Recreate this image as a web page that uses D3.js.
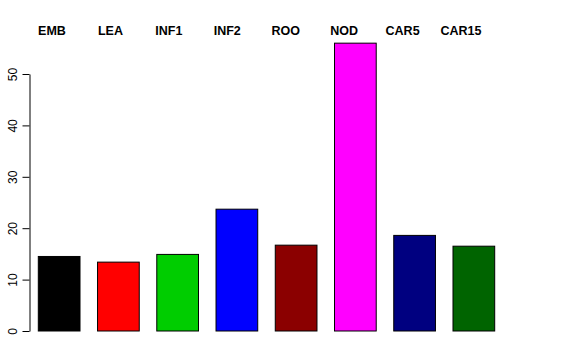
<!DOCTYPE html>
<html><head><meta charset="utf-8">
<script src="https://cdn.jsdelivr.net/npm/d3@7"></script>
<style>body{margin:0;background:#fff}svg{display:block}</style>
</head><body>
<script>
const categories = ["EMB","LEA","INF1","INF2","ROO","NOD","CAR5","CAR15"];
const values = [14.5, 13.4, 14.9, 23.7, 16.7, 56.0, 18.6, 16.5];
const colors = ["#000000","#FF0000","#00CD00","#0000FF","#8B0000","#FF00FF","#000080","#006400"];
const yTicks = [0,10,20,30,40,50];

const W = 576, H = 360;
const svg = d3.select("body").append("svg").attr("width", W).attr("height", H);

const x = d3.scaleBand().domain(categories).range([38.3, 494.7]).paddingInner(0.296).paddingOuter(0);
const y = d3.scaleLinear().domain([0, 50]).range([331, 74]);
const xl = d3.scalePoint().domain(categories).range([52, 461]);

svg.append("g").selectAll("rect").data(categories).join("rect")
  .attr("x", d => x(d))
  .attr("y", (d,i) => y(values[i]))
  .attr("width", x.bandwidth())
  .attr("height", (d,i) => y(0) - y(values[i]))
  .attr("fill", (d,i) => colors[i])
  .attr("stroke", "#000")
  .attr("stroke-width", 1);

const ax = svg.append("g").attr("transform", "translate(29.5,0)")
  .call(d3.axisLeft(y).tickValues(yTicks).tickSize(7).tickSizeOuter(0).tickFormat(d3.format("d")));
ax.select(".domain").attr("stroke", "#000");
ax.selectAll(".tick line").attr("stroke", "#000");
ax.selectAll(".tick text")
  .attr("font-family", "Liberation Sans, Arial, sans-serif")
  .attr("font-size", 12)
  .attr("fill", "#000")
  .attr("x", null).attr("dy", null)
  .attr("text-anchor", "middle")
  .attr("transform", "translate(-12.5,0) rotate(-90)");

svg.append("g").selectAll("text").data(categories).join("text")
  .attr("x", d => xl(d))
  .attr("y", 35)
  .attr("text-anchor", "middle")
  .attr("font-family", "Liberation Sans, Arial, sans-serif")
  .attr("font-weight", "bold")
  .attr("font-size", 12.5)
  .attr("fill", "#000")
  .text(d => d);
</script>
</body></html>
